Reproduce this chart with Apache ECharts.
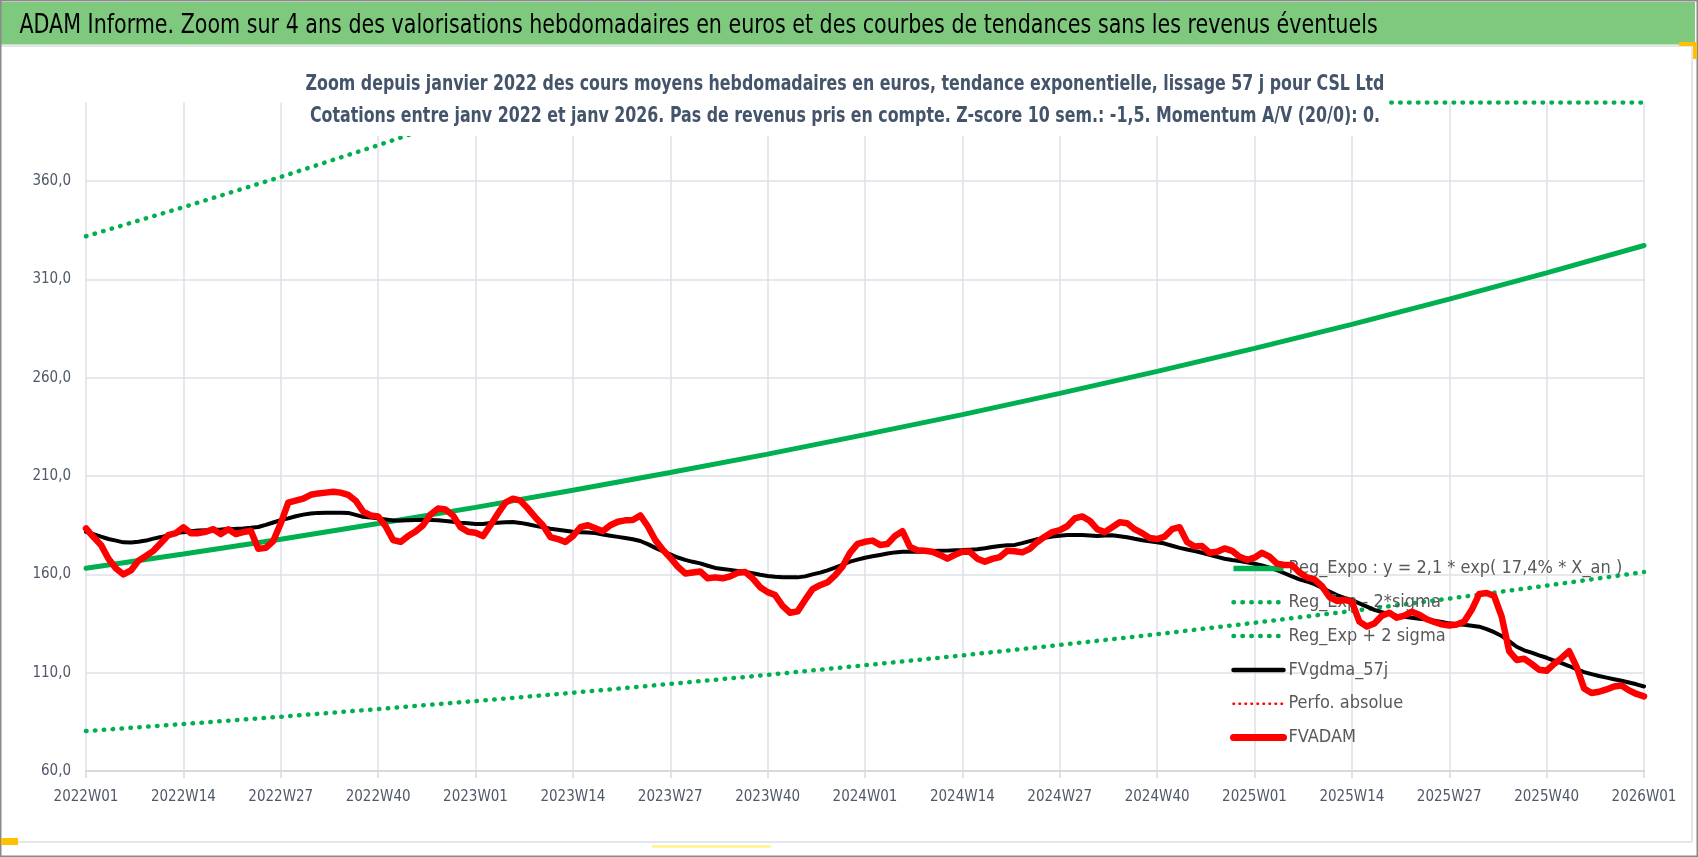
<!DOCTYPE html>
<html>
<head>
<meta charset="utf-8">
<script src="https://cdn.jsdelivr.net/npm/echarts@6/dist/echarts.min.js"></script>
<style>
html,body{margin:0;padding:0;background:#fff;}
#chart{width:1698px;height:857px;}
</style>
</head>
<body>
<div id="chart"></div>
<script>
// ---- categories (ISO weeks 2022W01 .. 2026W01) ----
const years = [2022, 2023, 2024, 2025];
const weeksPerYear = 52;
const categories = [];
years.forEach(y => { for (let w = 1; w <= weeksPerYear; w++) categories.push(y + 'W' + String(w).padStart(2, '0')); });
categories.push('2026W01');

// ---- FVADAM weekly values (red) ----
const fvadam = [
183.4,179,175,168,163,160,162,167,169.4,172,
176,180,181,184,181,181,181.7,183,180.5,183,
180.5,181.5,182.2,173,173.5,177,186,196.5,197.5,198.5,
200.5,201.2,201.6,202,201.6,200.5,197.5,192,190,189.5,
184.5,177.5,176.5,179.5,181.8,185,190.5,193.5,193,190,
184,181.7,181.2,179.5,185,191,196.5,198.5,197.5,193.5,
189,185,179,178,176.5,179.5,184,185,183.5,182,
185,186.8,187.5,187.7,190,184.5,177.5,172.5,168.5,164,
160.5,161,161.5,158,158.5,158,159,160.8,161.2,158,
153.5,151,149.5,144,140.5,141.2,147,152.5,154.5,156,
159.5,164,171,175.5,176.6,177.2,175,175.5,179.5,182,
174,172.3,172,171.5,169.9,168,170,171.5,171.5,168,
166.5,167.9,168.8,172,171.8,171.2,173,176.5,179.2,181.5,
182.5,184.5,188.5,189.5,187.3,183,181.5,184,186.5,186,
183,181,178.5,178,179.2,183,184,176.5,174.2,174.4,
171,171.5,173.2,172,169,167.4,168.5,171,169,165.5,
164.8,164.8,161,158.5,157.5,154,148.5,146.5,147,146,
136,133.5,135,139,140.5,138,139,141,139.5,137.2,
135.8,134.6,134,134.5,136,142,150,150.5,149,138.5,
121,116.5,117.1,114.5,111.5,111,114.5,117.5,121,113,
102,99.7,100.3,101.5,103,103.5,101,99.2,98
];

// ---- FVgdma_57j weekly values (black) ----
const fvgdma = [
181.7,180.5,179.2,178,177.2,176.3,176.2,176.6,177.2,178.2,
179,180,180.9,181.5,182,182.3,182.5,182.6,182.8,183.1,
183.2,183.4,183.7,184.1,185.2,186.4,187.6,188.5,189.6,190.4,
191,191.3,191.4,191.4,191.4,191.3,190.3,189.3,188.9,188.5,
188,187.4,187.4,187.6,187.7,187.7,187.7,187.5,187.2,186.8,
186.3,186,185.7,185.7,186.1,186.3,186.5,186.7,186.2,185.5,
184.7,184,183.2,182.7,182.2,181.7,181.5,181.3,181,180.3,
179.7,179.1,178.5,177.9,177,175.4,173.5,171.8,170.2,168.6,
167.4,166.4,165.6,164.4,163.3,162.8,162.3,161.8,161.3,160.6,
159.8,159.2,158.8,158.5,158.5,158.5,159,160,160.9,162.1,
163.4,164.9,166.5,167.5,168.5,169.2,169.9,170.6,171.2,171.5,
171.5,171.5,171.7,171.9,172,172.1,172.3,172.4,172.6,172.8,
173.3,173.9,174.5,174.8,175,175.9,176.9,177.9,178.6,179.3,
179.7,180,180,180,179.8,179.5,179.8,179.9,179.4,178.9,
178.1,177.4,176.9,176.4,175.7,174.6,173.5,172.7,171.9,171,
170,168.9,168,167.3,166.8,166.2,165.4,164.6,163.4,162.2,
160.6,159,157.5,156.4,155,153.3,151.3,149.5,148.1,147,
145.3,143.6,142,140.8,139.8,139,138.5,138,137.5,137,
136.5,135.8,135.1,134.7,134.4,133.9,133.4,132.2,130.6,128.7,
126,123.2,121.4,120.2,118.8,117.6,116.2,114.9,113.4,111.8,
110.3,109.3,108.3,107.5,106.7,105.9,105,104.1,103
];

// ---- trend lines read at quarterly marks: [week index, value] ----
const regExpo = [[0,163.1],[13,170.4],[26,177.9],[39,185.9],[52,194.1],[65,202.8],[78,211.8],[91,221.2],[104,231.1],[117,241.3],[130,252.1],[143,263.3],[156,275.0],[169,287.2],[182,300.0],[195,313.4],[208,327.3]];
const regLow = [[0,80.3],[13,83.9],[26,87.6],[39,91.5],[52,95.6],[65,99.8],[78,104.3],[91,108.9],[104,113.8],[117,118.8],[130,124.1],[143,129.6],[156,135.4],[169,141.4],[182,147.7],[195,154.3],[208,161.2]];
const regHigh = [[0,332],[13,346.8],[26,362.2],[39,378.3],[52,395.1],[56,400],[65,400],[78,400],[91,400],[104,400],[117,400],[130,400],[143,400],[156,400],[169,400],[182,400],[195,400],[208,400]];
const perfoAbsolue = [];

// ---- texts ----
const mainTitle = 'ADAM Informe. Zoom sur 4 ans des valorisations hebdomadaires en euros et des courbes de tendances sans les revenus éventuels';
const subLine1 = 'Zoom depuis janvier 2022 des cours moyens hebdomadaires en euros, tendance exponentielle, lissage 57 j pour CSL Ltd';
const subLine2 = 'Cotations entre janv 2022 et janv 2026. Pas de revenus pris en compte. Z-score 10 sem.: -1,5. Momentum A/V (20/0): 0.';
const seriesNames = ['Reg_Expo : y = 2,1 * exp( 17,4% * X_an )', 'Reg_Exp - 2*sigma', 'Reg_Exp + 2 sigma', 'FVgdma_57j', 'Perfo. absolue', 'FVADAM'];

const NARROW = '"DejaVu Sans Condensed", "Liberation Sans", sans-serif';
const LBL = '#4F5868';
const GRID = '#DDE0E6';
const GREEN = '#00B050';
const dotStyle = { color: GREEN, width: 4.5, type: [0.5, 8.4], cap: 'round' };
const expoStyle = { color: GREEN, width: 5, cap: 'round' };
const blackStyle = { color: '#000000', width: 4, cap: 'round', join: 'round' };
const perfoStyle = { color: '#FF0000', width: 2.5, type: [0.5, 5.5], cap: 'round' };
const redStyle = { color: '#FF0000', width: 6.5, cap: 'round', join: 'round' };

const chart = echarts.init(document.getElementById('chart'), null, { renderer: 'canvas' });
chart.setOption({
  animation: false,
  backgroundColor: '#ffffff',
  grid: { left: 86, right: 54, top: 102.6, bottom: 86 },
  xAxis: {
    type: 'category',
    data: categories,
    boundaryGap: false,
    axisLine: { lineStyle: { color: '#D9D9D9', width: 2 } },
    axisTick: { show: true, interval: 12, length: 7, lineStyle: { color: '#D9D9D9', width: 1.5 } },
    axisLabel: { interval: 12, margin: 19, fontSize: 15, fontFamily: NARROW, color: LBL },
    splitLine: { show: true, interval: 12, lineStyle: { color: GRID, width: 1.5 } }
  },
  yAxis: {
    type: 'value',
    min: 60, max: 400, interval: 50,
    axisLine: { show: false },
    axisTick: { show: false },
    axisLabel: { margin: 15, fontSize: 15, fontFamily: NARROW, color: LBL, showMaxLabel: false,
      formatter: v => v.toFixed(1).replace('.', ',') },
    splitLine: { show: true, lineStyle: { color: [GRID, GRID, GRID, GRID, GRID, GRID, GRID, 'rgba(0,0,0,0)'], width: 1.5 } }
  },
  legend: {
    orient: 'vertical',
    left: 1230, top: 558, padding: 0,
    itemWidth: 50, itemHeight: 14, itemGap: 12.8,
    data: [
      { name: seriesNames[0], lineStyle: { color: GREEN, width: 5.5, type: 'solid', cap: 'butt' } },
      { name: seriesNames[1], lineStyle: dotStyle },
      { name: seriesNames[2], lineStyle: dotStyle },
      { name: seriesNames[3], lineStyle: { color: '#000000', width: 4.5, type: 'solid', cap: 'round' } },
      { name: seriesNames[4], lineStyle: perfoStyle },
      { name: seriesNames[5], lineStyle: { color: '#FF0000', width: 7, type: 'solid', cap: 'round' } }
    ],
    itemStyle: { opacity: 0 },
    textStyle: { fontSize: 18, fontFamily: NARROW, color: '#595959', lineHeight: 21 }
  },
  series: [
    { name: seriesNames[0], type: 'line', data: regExpo, symbol: 'none', z: 2, lineStyle: expoStyle, itemStyle: { color: GREEN } },
    { name: seriesNames[1], type: 'line', data: regLow, symbol: 'none', z: 2, lineStyle: dotStyle, itemStyle: { color: GREEN } },
    { name: seriesNames[2], type: 'line', data: regHigh, symbol: 'none', z: 2, lineStyle: dotStyle, itemStyle: { color: GREEN } },
    { name: seriesNames[3], type: 'line', data: fvgdma, symbol: 'none', z: 3, lineStyle: blackStyle, itemStyle: { color: '#000000' } },
    { name: seriesNames[4], type: 'line', data: perfoAbsolue, symbol: 'none', z: 3, lineStyle: perfoStyle, itemStyle: { color: '#FF0000' } },
    { name: seriesNames[5], type: 'line', data: fvadam, symbol: 'none', z: 4, lineStyle: redStyle, itemStyle: { color: '#FF0000' } }
  ],
  graphic: [
    { type: 'rect', z: 200, silent: true, shape: { x: 0, y: 2, width: 1695, height: 42.5 }, style: { fill: '#7FC97F' } },
    { type: 'line', z: 200, silent: true, shape: { x1: 0, y1: 46, x2: 1692, y2: 46 }, style: { stroke: '#E3E6EA', lineWidth: 2 } },
    { type: 'line', z: 200, silent: true, shape: { x1: 1692, y1: 46, x2: 1692, y2: 842 }, style: { stroke: '#E3E6EA', lineWidth: 2 } },
    { type: 'line', z: 200, silent: true, shape: { x1: 0, y1: 842, x2: 1692, y2: 842 }, style: { stroke: '#E3E6EA', lineWidth: 2 } },
    { type: 'rect', z: 200, silent: true, shape: { x: 0.5, y: 0.5, width: 1697, height: 856 }, style: { fill: 'none', stroke: '#8A8A8A', lineWidth: 2 } },
    { type: 'polyline', z: 201, silent: true, shape: { points: [[1679, 44], [1695, 44], [1695, 59]] }, style: { stroke: '#FFC000', lineWidth: 4, fill: 'none' } },
    { type: 'rect', z: 201, silent: true, shape: { x: 1, y: 838, width: 17, height: 7 }, style: { fill: '#FFC000' } },
    { type: 'line', z: 201, silent: true, shape: { x1: 652, y1: 846.5, x2: 771, y2: 846.5 }, style: { stroke: '#FFF36B', lineWidth: 2 } },
    { type: 'text', z: 202, silent: true, x: 19.5, y: 25.5, scaleX: 0.85,
      style: { text: mainTitle, x: 0, y: 0, font: '27px ' + NARROW, fill: '#000000', textVerticalAlign: 'middle' } },
    { type: 'rect', z: 200, silent: true, shape: { x: 300, y: 55, width: 1088, height: 81 }, style: { fill: '#ffffff' } },
    { type: 'text', z: 202, silent: true, x: 845, y: 84, scaleX: 0.8,
      style: { text: subLine1, x: 0, y: 0, font: 'bold 22px ' + NARROW, fill: '#44546A', textAlign: 'center', textVerticalAlign: 'middle' } },
    { type: 'text', z: 202, silent: true, x: 845, y: 116, scaleX: 0.8,
      style: { text: subLine2, x: 0, y: 0, font: 'bold 22px ' + NARROW, fill: '#44546A', textAlign: 'center', textVerticalAlign: 'middle' } }
  ]
});
</script>
</body>
</html>
